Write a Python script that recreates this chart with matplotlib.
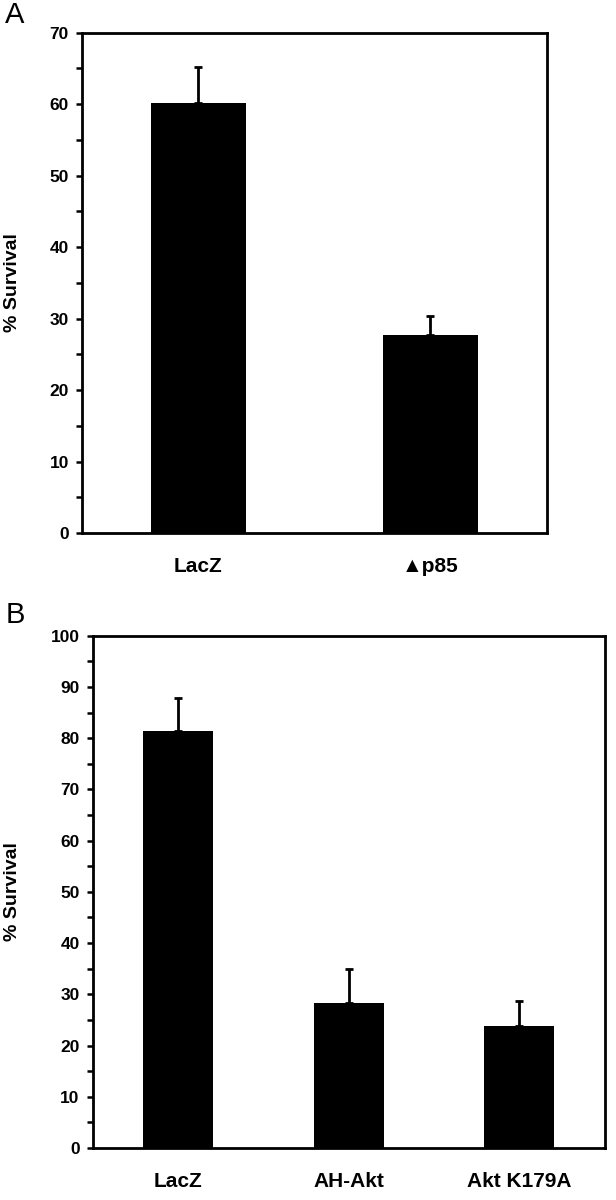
import matplotlib
matplotlib.use("Agg")
import matplotlib.pyplot as plt
from matplotlib.ticker import MultipleLocator

plt.rcParams["font.family"] = ["Liberation Sans", "DejaVu Sans"]

# panel A
a_labels = ["LacZ", "\u25B2p85"]
a_values = [60.2, 27.7]
a_errors = [5.0, 2.6]

# panel B
b_labels = ["LacZ", "AH-Akt", "Akt K179A"]
b_values = [81.4, 28.3, 23.8]
b_errors = [6.4, 6.6, 4.9]


def draw_panel(ax, labels, values, errors, ymax, label_x):
    x = list(range(len(labels)))
    ax.bar(x, values, width=0.41, color="black", zorder=2)
    ax.errorbar(x, values, yerr=[[0] * len(errors), errors], fmt="none",
                ecolor="black", elinewidth=2, capsize=2.6, capthick=2, zorder=1)
    ax.set_xlim(-0.5, len(labels) - 0.5)
    ax.set_ylim(0, ymax)
    ax.yaxis.set_major_locator(MultipleLocator(10))
    ax.yaxis.set_minor_locator(MultipleLocator(5))
    ax.set_xticks(x)
    ax.set_xticklabels(labels, fontsize=15, fontweight="bold")
    ax.tick_params(axis="x", length=0, pad=17)
    ax.tick_params(axis="y", which="both", direction="out", length=4.5, width=1.8,
                   labelsize=12.5, pad=5)
    for t in ax.get_yticklabels():
        t.set_fontweight("bold")
    for sp in ax.spines.values():
        sp.set_linewidth(2)
    ax.set_ylabel("% Survival", fontsize=14, fontweight="bold")
    ax.yaxis.set_label_coords(label_x, 0.5)


fig = plt.figure(figsize=(6.16, 12), dpi=100)

ax_a = fig.add_axes([82 / 616, 1 - 533 / 1200, 464.5 / 616, 500.3 / 1200])
draw_panel(ax_a, a_labels, a_values, a_errors, 70, -0.132)

ax_b = fig.add_axes([92.7 / 616, 1 - 1148 / 1200, 512 / 616, 512.3 / 1200])
draw_panel(ax_b, b_labels, b_values, b_errors, 100, -0.141)

fig.text(5 / 616, 1 - 23 / 1200, "A", fontsize=21, va="baseline", ha="left")
fig.text(6 / 616, 1 - 623 / 1200, "B", fontsize=21, va="baseline", ha="left")

fig.savefig("out.png", dpi=100)
